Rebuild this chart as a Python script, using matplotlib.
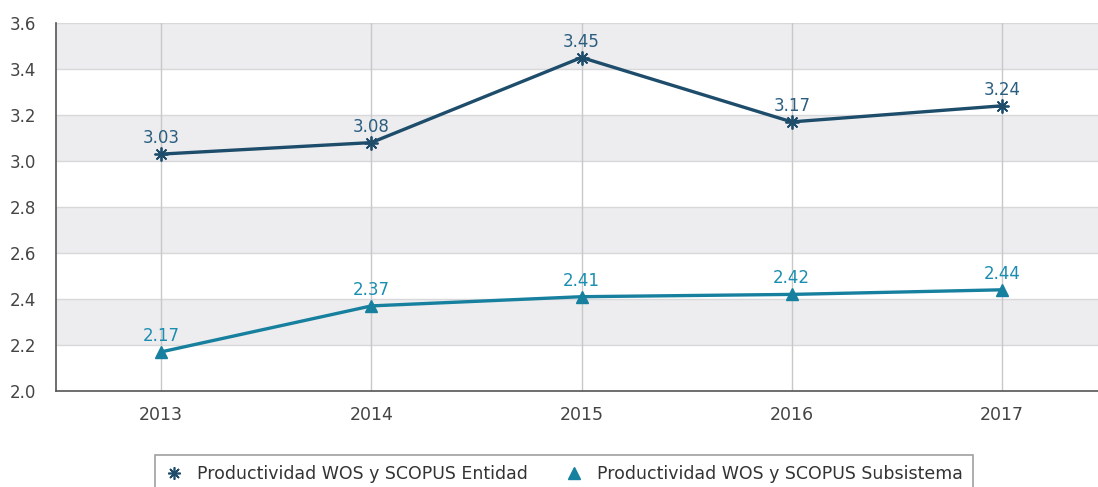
import matplotlib
matplotlib.use("Agg")
import matplotlib.pyplot as plt
from matplotlib.lines import Line2D

years = ["2013", "2014", "2015", "2016", "2017"]
entidad = [3.03, 3.08, 3.45, 3.17, 3.24]
subsistema = [2.17, 2.37, 2.41, 2.42, 2.44]
labels = ["Productividad WOS y SCOPUS Entidad", "Productividad WOS y SCOPUS Subsistema"]
yticks = [2.0, 2.2, 2.4, 2.6, 2.8, 3.0, 3.2, 3.4, 3.6]

navy = "#1E4D6B"
teal = "#17809F"
navy_txt = "#2A5E80"
teal_txt = "#1A8DB0"

plt.rcParams['font.family'] = ['DejaVu Sans']

fig = plt.figure(figsize=(10.98, 4.87), dpi=100)
ax = fig.add_axes([56/1098, 1-391/487, 1-56/1098, (391-23)/487])

x = list(range(len(years)))
ax.set_xlim(-0.5, 4.457)
ax.set_ylim(2.0, 3.6)

# striped bands
for i in range(len(yticks) - 1):
    if i % 2 == 1:
        ax.axhspan(yticks[i], yticks[i+1], color="#EDEDEF", zorder=0, lw=0)
for yv in yticks[1:]:
    ax.axhline(yv, color="#D8D8DA", lw=1, zorder=0.5)
for xv in x:
    ax.axvline(xv, color="#C8C8C8", lw=1, zorder=0.5)

ax.plot(x, entidad, color=navy, lw=2.4, marker=(8, 2, 0), markersize=10,
        markeredgewidth=1.3, markeredgecolor=navy, zorder=3)
ax.plot(x, subsistema, color=teal, lw=2.4, marker="^", markersize=9,
        markeredgecolor=teal, markerfacecolor=teal, zorder=3)

for xi, v in zip(x, entidad):
    ax.annotate(f"{v:.2f}", (xi, v), xytext=(0, 5), textcoords="offset points",
                ha="center", va="bottom", color=navy_txt, fontsize=12)
for xi, v in zip(x, subsistema):
    ax.annotate(f"{v:.2f}", (xi, v), xytext=(0, 5), textcoords="offset points",
                ha="center", va="bottom", color=teal_txt, fontsize=12)

ax.set_xticks(x)
ax.set_xticklabels(years)
ax.set_yticks(yticks)
ax.set_yticklabels([f"{t:.1f}" for t in yticks])
ax.tick_params(axis="both", length=0, colors="#444444")
ax.tick_params(axis="x", pad=11, labelsize=12.5)
ax.tick_params(axis="y", pad=14, labelsize=12)

for s in ["top", "right"]:
    ax.spines[s].set_visible(False)
for s in ["left", "bottom"]:
    ax.spines[s].set_color("#555555")
    ax.spines[s].set_linewidth(1.2)

handles = [
    Line2D([], [], linestyle="none", marker=(8, 2, 0), markersize=9,
           markeredgewidth=1.2, markeredgecolor=navy, color=navy),
    Line2D([], [], linestyle="none", marker="^", markersize=8,
           markeredgecolor=teal, markerfacecolor=teal),
]
leg = fig.legend(handles, labels, loc="upper center", bbox_to_anchor=(564/1098, 1-455/487),
                 ncol=2, frameon=True, fancybox=False, edgecolor="#888888", fontsize=12.5,
                 handlelength=1.0, handletextpad=0.8, columnspacing=2.2, borderpad=0.6,
                 borderaxespad=0, labelcolor="#333333")
leg.get_frame().set_linewidth(1.2)

fig.savefig("out.png", dpi=100)
